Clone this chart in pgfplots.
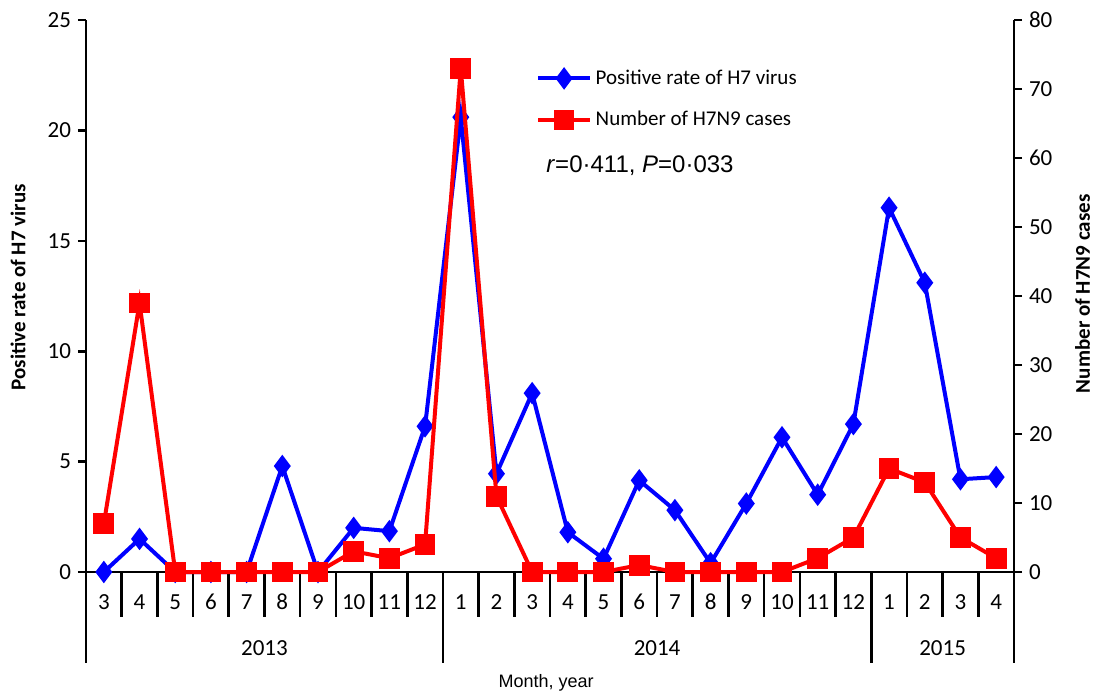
\documentclass[border=0pt]{standalone}
\usepackage{pgfplots}
\pgfplotsset{compat=1.18}
\usepackage{fontspec}
\setmainfont{Carlito}
\newfontfamily\arial{Liberation Sans}
\begin{document}
\begin{tikzpicture}[x=1pt,y=1pt]
\useasboundingbox (-43,-60.5) rectangle (504,286);
\pgfplotsset{
  common/.style={
    scale only axis, width=464pt, height=276pt,
    xmin=-0.5, xmax=25.5,
    clip=false,
    tick align=outside,
    major tick length=4pt,
    every tick/.style={black, line width=1.3pt},
    axis line style={line width=1.3pt},
    ticklabel style={font=\fontsize{11.5}{13}\selectfont},
    /pgf/number format/assume math mode=true,
  }
}
\begin{axis}[common,
  ymin=0, ymax=25,
  axis x line*=bottom, axis y line*=left,
  xtick={0,...,25},
  xticklabels={3,4,5,6,7,8,9,10,11,12,1,2,3,4,5,6,7,8,9,10,11,12,1,2,3,4},
  every major x tick/.style={draw=none},
  xticklabel style={anchor=center, yshift=-11pt},
  ytick={0,5,...,25},
  ylabel={\bfseries Positive rate of H7 virus},
  ylabel style={at={(axis description cs:-0.0733,0.516)}, anchor=center, font=\fontsize{10.5}{12}\selectfont},
]
\addplot[blue, line width=2pt, mark=diamond*, mark size=4pt, mark options={solid}] coordinates {
(0,0) (1,1.5) (2,0) (3,0) (4,0) (5,4.8) (6,0) (7,2.0) (8,1.85) (9,6.6)
(10,20.6) (11,4.45) (12,8.1) (13,1.8) (14,0.6) (15,4.15) (16,2.8) (17,0.4) (18,3.1) (19,6.1) (20,3.5) (21,6.7)
(22,16.5) (23,13.1) (24,4.2) (25,4.3)
};
\pgfplotsinvokeforeach{0,...,24}{
  \draw[line width=1.3pt] (axis cs:#1+0.5,0) -- ++(0pt,-22.5pt);
}
\draw[line width=1.3pt] (axis cs:-0.5,0) -- ++(0pt,-45.5pt);
\draw[line width=1.3pt] (axis cs:9.5,0) -- ++(0pt,-45.5pt);
\draw[line width=1.3pt] (axis cs:21.5,0) -- ++(0pt,-45.5pt);
\draw[line width=1.3pt] (axis cs:25.5,0) -- ++(0pt,-45.5pt);
\node[font=\fontsize{11.5}{13}\selectfont] at ([yshift=-38pt]axis cs:4.5,0) {2013};
\node[font=\fontsize{11.5}{13}\selectfont] at ([yshift=-38pt]axis cs:15.5,0) {2014};
\node[font=\fontsize{11.5}{13}\selectfont] at ([yshift=-38pt]axis cs:23.5,0) {2015};
\node[font=\arial\fontsize{9}{11}\selectfont] at ([yshift=-55.5pt]axis cs:12.39,0) {Month, year};
\end{axis}
\begin{axis}[common,
  ymin=0, ymax=80,
  axis y line*=right, axis x line=none,
  ytick={0,10,...,80},
  ylabel={\bfseries Number of H7N9 cases},
  ylabel style={at={(axis description cs:1.074,0.504)}, anchor=center, font=\fontsize{10.5}{12}\selectfont},
  legend style={at={(axis description cs:0.485,0.918)}, anchor=north west, draw=none, fill=none,
    font=\fontsize{10.5}{12}\selectfont, row sep=8pt, inner sep=0pt},
  legend cell align=left,
  legend image code/.code={\draw[mark repeat=2,mark phase=2,#1] plot coordinates {(0cm,0cm) (0.45cm,0cm) (0.9cm,0cm)};},
]
\addlegendimage{blue, line width=2pt, mark=diamond*, mark size=4pt, mark options={solid}}
\addlegendentry{Positive rate of H7 virus}
\addplot[red, line width=2pt, mark=square*, mark size=4.2pt, mark options={solid}] coordinates {
(0,7) (1,39) (2,0) (3,0) (4,0) (5,0) (6,0) (7,3) (8,2) (9,4)
(10,73) (11,11) (12,0) (13,0) (14,0) (15,1) (16,0) (17,0) (18,0) (19,0) (20,2) (21,5)
(22,15) (23,13) (24,5) (25,2)
};
\addlegendentry{Number of H7N9 cases}
\node[font=\arial\fontsize{12}{14}\selectfont] at (axis description cs:0.597,0.737) {\textit{r}=0·411, \textit{P}=0·033};
\end{axis}
\end{tikzpicture}
\end{document}
